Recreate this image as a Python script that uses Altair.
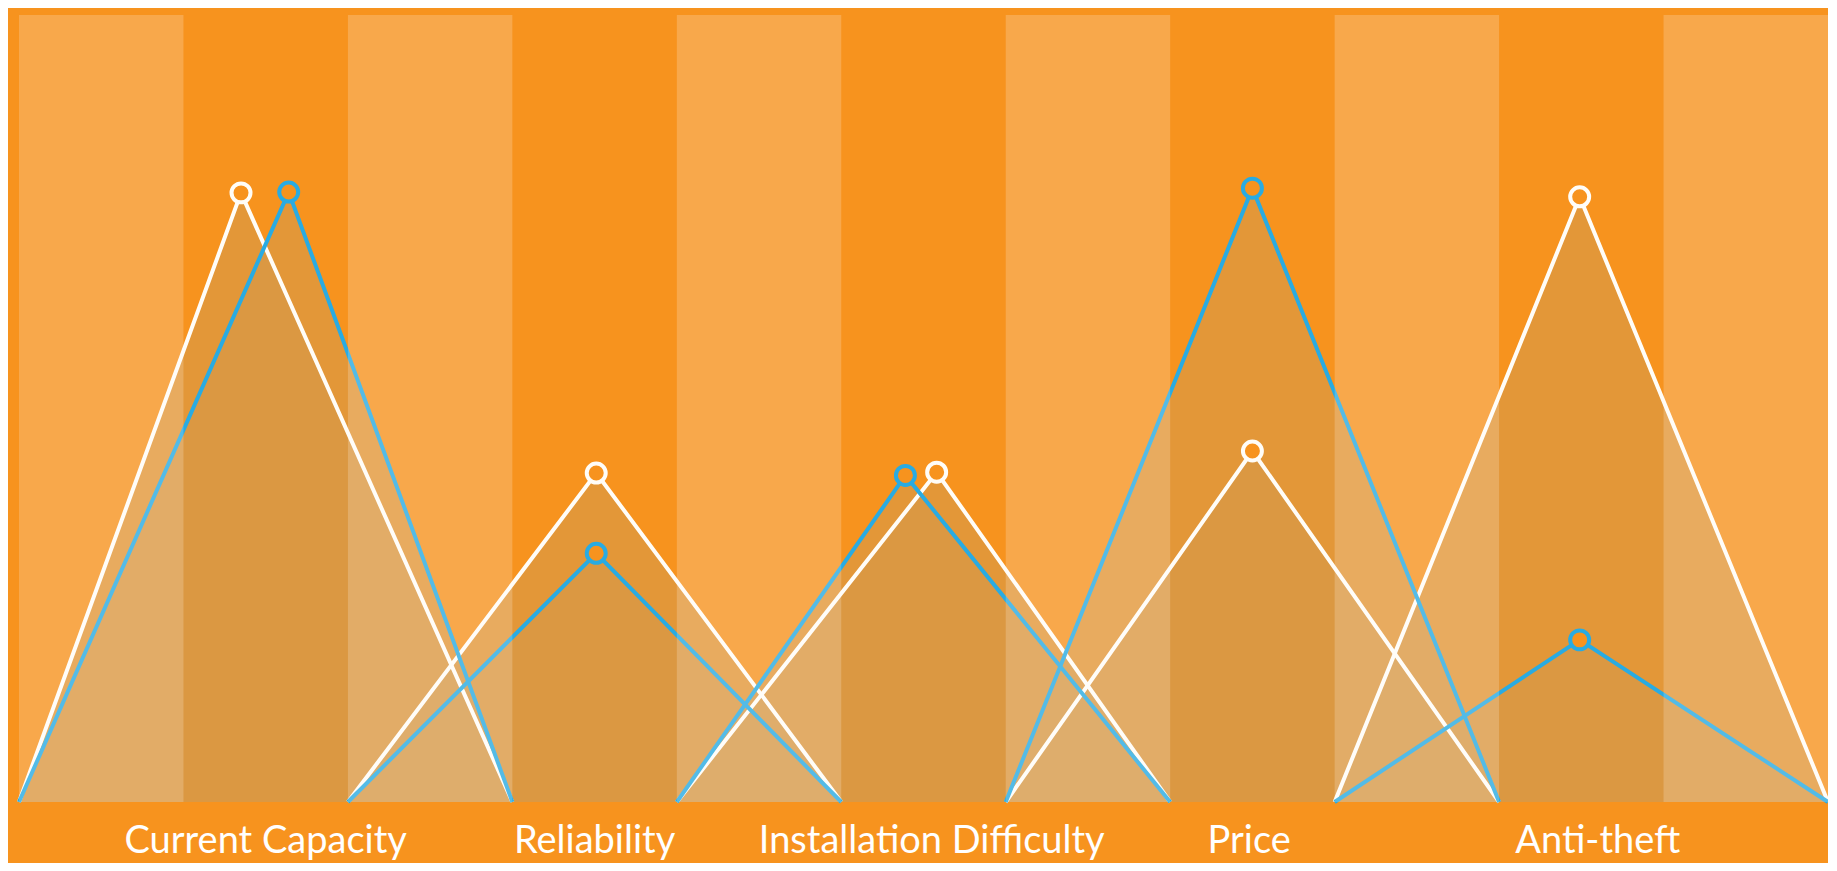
import altair as alt
import pandas as pd

# ---- data ----
categories = ["Current Capacity", "Reliability", "Installation Difficulty", "Price", "Anti-theft"]
base_start = [0, 2, 4, 6, 8]
base_end = [3, 5, 7, 9, 11]
white_peak_x = [1.35, 3.51, 5.58, 7.5, 9.49]
blue_peak_x = [1.64, 3.51, 5.39, 7.5, 9.49]
white_values = [77.4, 41.8, 41.9, 44.6, 76.9]
blue_values = [77.5, 31.6, 41.5, 78.0, 20.6]
label_x = [1.5, 3.5, 5.55, 7.48, 9.6]
stripe_start = [0, 2, 4, 6, 8, 10]
stripe_end = [1, 3, 5, 7, 9, 11]
y_top = 100

BG = "#F7931E"
WHITE = "#FFFDF8"
BLUE = "#29ABE2"

rows = []
peaks = []
for series, px_list, vals in [("white", white_peak_x, white_values), ("blue", blue_peak_x, blue_values)]:
    for i, cat in enumerate(categories):
        tid = f"{series}-{i}"
        rows.append(dict(tid=tid, series=series, cat=cat, x=base_start[i], y=0, y0=0, k=0))
        rows.append(dict(tid=tid, series=series, cat=cat, x=px_list[i], y=vals[i], y0=0, k=1))
        rows.append(dict(tid=tid, series=series, cat=cat, x=base_end[i], y=0, y0=0, k=2))
        peaks.append(dict(series=series, cat=cat, x=px_list[i], y=vals[i]))
tri = pd.DataFrame(rows)
pk = pd.DataFrame(peaks)
stripes = pd.DataFrame(dict(x=stripe_start, x2=stripe_end, y=[0] * len(stripe_start), y2=[y_top] * len(stripe_start)))
labels = pd.DataFrame(dict(cat=categories, x=label_x))

xs = alt.Scale(domain=[0, 11], nice=False, zero=False)
ys = alt.Scale(domain=[0, y_top], nice=False, zero=False)
cs = alt.Scale(domain=["white", "blue"], range=[WHITE, BLUE])

X = alt.X("x:Q", scale=xs, axis=None)
Y = alt.Y("y:Q", scale=ys, axis=None)

fills = alt.Chart(tri).mark_area(fill="#D6994A", fillOpacity=0.6, stroke=None).encode(
    x=X, y=Y, y2="y0:Q", detail="tid:N"
)

lines = alt.Chart(tri).mark_line(strokeWidth=4, strokeJoin="miter").encode(
    x=X, y=Y, detail="tid:N", order="k:Q",
    color=alt.Color("series:N", scale=cs, legend=None),
)

points = alt.Chart(pk).mark_point(filled=False, fill=BG, fillOpacity=1, size=360, strokeWidth=4, opacity=1).encode(
    x=X, y=Y, stroke=alt.Stroke("series:N", scale=cs, legend=None)
)

stripe_layer = alt.Chart(stripes).mark_rect(color="white", opacity=0.2).encode(
    x=X, x2="x2:Q", y=Y, y2="y2:Q"
)

text = alt.Chart(labels).mark_text(
    font="Lato", fontSize=38, color="white", baseline="alphabetic", align="center"
).encode(x=X, y=alt.value(838), text="cat:N")

chart = alt.layer(fills, lines, points, stripe_layer, text).properties(
    width=1809, height=787,
    background=BG,
    padding={"left": 11, "top": 7, "right": 0, "bottom": 61},
    autosize=alt.AutoSizeParams(type="none"),
).configure_view(stroke=None)

chart.save("out.html", embed_options={"renderer": "svg", "actions": False})
